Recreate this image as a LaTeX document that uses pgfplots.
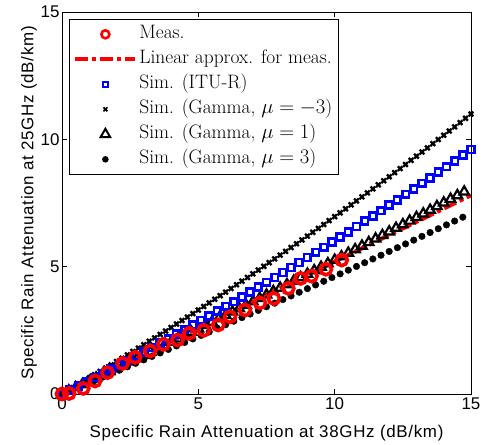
\documentclass[border=0pt]{standalone}
\usepackage{fontspec}
\usepackage{pgfplots}
\pgfplotsset{compat=1.18}
\newfontfamily\tickfont{Liberation Sans}
\newfontfamily\labfont[LetterSpace=4]{Liberation Sans}

\begin{document}
\begin{tikzpicture}
\begin{axis}[
    name=ax,
    scale only axis,
    width=409bp, height=382bp,
    xmin=0, xmax=15, ymin=0, ymax=15,
    xtick={0,5,10,15}, ytick={0,5,10,15},
    tick align=inside,
    major tick length=5bp,
    axis line style={line width=0.9bp},
    every tick/.style={black, line width=0.9bp},
    ticklabel style={font=\fontsize{17}{19}\selectfont\tickfont},
    /pgf/number format/assume math mode=true,
    xticklabel style={yshift=0bp},
    yticklabel style={xshift=1bp},
    xlabel={Specific Rain Attenuation at 38GHz (dB/km)},
    ylabel={Specific Rain Attenuation at 25GHz (dB/km)},
    label style={font=\fontsize{17}{19}\selectfont\labfont},
    xlabel style={yshift=-9bp},
    ylabel style={yshift=-3bp},
    legend style={
        at={(0.017,0.982)}, anchor=north west,
        draw=black, line width=0.9bp,
        font=\fontsize{19.5}{22}\selectfont,
        cells={anchor=west},
        nodes={text height=14bp, text depth=5bp, inner ysep=3bp},
        /tikz/every odd column/.append style={inner xsep=1bp},
        row sep=0bp,
        inner xsep=4bp, inner ysep=2.5bp,
    },
    legend image code/.code={
        \draw[mark repeat=2,mark phase=2,#1] plot coordinates {(0bp,0bp) (30bp,0bp) (60bp,0bp)};
    },
]
\addlegendimage{only marks, mark=o, mark size=4bp, red, line width=2.6bp}
\addlegendentry{Meas.}
\addlegendimage{red, line width=4bp, dash pattern=on 13bp off 4bp on 4bp off 4bp}
\addlegendentry{Linear approx. for meas.}
\addlegendimage{only marks, mark=square, mark size=2.6bp, blue, line width=1.8bp}
\addlegendentry{Sim. (ITU-R)}
\addlegendimage{only marks, mark=x, mark size=2.8bp, black, line width=1.7bp}
\addlegendentry{Sim. (Gamma, $\mu=-3$)}
\addlegendimage{only marks, mark=triangle, mark size=5.5bp, black, line width=2bp, mark options={fill=white}}
\addlegendentry{Sim. (Gamma, $\mu=1$)}
\addlegendimage{only marks, mark=*, mark size=2.8bp, black}
\addlegendentry{Sim. (Gamma, $\mu=3$)}

% Sim. (Gamma, mu = 3)
\addplot[forget plot, only marks, mark=*, mark size=3.3bp, black] table {
x y
0 0
0.3 0.132
0.6 0.265
0.9 0.398
1.2 0.531
1.5 0.665
1.8 0.799
2.1 0.934
2.4 1.069
2.7 1.204
3.0 1.340
3.3 1.476
3.6 1.613
3.9 1.750
4.2 1.887
4.5 2.025
4.8 2.163
5.1 2.301
5.4 2.440
5.7 2.580
6.0 2.719
6.3 2.859
6.6 3.000
6.9 3.141
7.2 3.282
7.5 3.424
7.8 3.566
8.1 3.708
8.4 3.851
8.7 3.995
9.0 4.138
9.3 4.282
9.6 4.427
9.9 4.572
10.2 4.717
10.5 4.863
10.8 5.009
11.1 5.155
11.4 5.302
11.7 5.449
12.0 5.597
12.3 5.745
12.6 5.893
12.9 6.042
13.2 6.191
13.5 6.341
13.8 6.491
14.1 6.641
14.4 6.792
14.7 6.943
};

% Sim. (Gamma, mu = 1)
\addplot[forget plot, only marks, mark=triangle, mark size=5.5bp, black, line width=2.2bp, mark options={fill=white}] table {
x y
0 0
0.25 0.125
0.5 0.251
0.75 0.376
1.0 0.503
1.25 0.629
1.5 0.756
1.75 0.883
2.0 1.010
2.25 1.138
2.5 1.266
2.75 1.395
3.0 1.523
3.25 1.652
3.5 1.782
3.75 1.912
4.0 2.042
4.25 2.172
4.5 2.303
4.75 2.434
5.0 2.565
5.25 2.697
5.5 2.829
5.75 2.961
6.0 3.094
6.25 3.227
6.5 3.360
6.75 3.494
7.0 3.627
7.25 3.762
7.5 3.896
7.75 4.031
8.0 4.166
8.25 4.302
8.5 4.438
8.75 4.574
9.0 4.711
9.25 4.847
9.5 4.985
9.75 5.122
10.0 5.260
10.25 5.398
10.5 5.537
10.75 5.675
11.0 5.815
11.25 5.954
11.5 6.094
11.75 6.234
12.0 6.374
12.25 6.515
12.5 6.656
12.75 6.798
13.0 6.939
13.25 7.081
13.5 7.224
13.75 7.367
14.0 7.510
14.25 7.653
14.5 7.797
14.75 7.941
};

% Sim. (Gamma, mu = -3)
\addplot[forget plot, only marks, mark=x, mark size=3.3bp, black, line width=2.3bp] table {
x y
0 0
0.2 0.125
0.4 0.250
0.6 0.376
0.8 0.503
1.0 0.630
1.2 0.758
1.4 0.887
1.6 1.016
1.8 1.145
2.0 1.275
2.2 1.406
2.4 1.537
2.6 1.669
2.8 1.802
3.0 1.935
3.2 2.069
3.4 2.203
3.6 2.338
3.8 2.473
4.0 2.609
4.2 2.746
4.4 2.883
4.6 3.021
4.8 3.159
5.0 3.298
5.2 3.438
5.4 3.578
5.6 3.719
5.8 3.860
6.0 4.002
6.2 4.144
6.4 4.287
6.6 4.431
6.8 4.575
7.0 4.720
7.2 4.866
7.4 5.012
7.6 5.158
7.8 5.305
8.0 5.453
8.2 5.602
8.4 5.750
8.6 5.900
8.8 6.050
9.0 6.201
9.2 6.352
9.4 6.504
9.6 6.656
9.8 6.809
10.0 6.963
10.2 7.117
10.4 7.272
10.6 7.427
10.8 7.583
11.0 7.740
11.2 7.897
11.4 8.055
11.6 8.213
11.8 8.372
12.0 8.532
12.2 8.692
12.4 8.852
12.6 9.014
12.8 9.175
13.0 9.338
13.2 9.501
13.4 9.664
13.6 9.829
13.8 9.993
14.0 10.159
14.2 10.325
14.4 10.491
14.6 10.658
14.8 10.826
15.0 10.994
};

% Sim. (ITU-R)
\addplot[forget plot, only marks, mark=square, mark size=3.4bp, blue, line width=2.7bp, mark options={fill=white}] table {
x y
0 0
0.3 0.159
0.6 0.320
0.9 0.482
1.2 0.645
1.5 0.810
1.8 0.976
2.1 1.144
2.4 1.312
2.7 1.482
3.0 1.654
3.3 1.826
3.6 2.000
3.9 2.176
4.2 2.352
4.5 2.530
4.8 2.710
5.1 2.890
5.4 3.072
5.7 3.256
6.0 3.440
6.3 3.626
6.6 3.814
6.9 4.002
7.2 4.192
7.5 4.384
7.8 4.576
8.1 4.770
8.4 4.966
8.7 5.162
9.0 5.360
9.3 5.560
9.6 5.760
9.9 5.962
10.2 6.166
10.5 6.370
10.8 6.576
11.1 6.784
11.4 6.992
11.7 7.202
12.0 7.414
12.3 7.626
12.6 7.840
12.9 8.056
13.2 8.272
13.5 8.490
13.8 8.710
14.1 8.930
14.4 9.152
14.7 9.375
15.0 9.600
};

% Linear approx. for meas.
\addplot[forget plot, red, line width=4bp, dash pattern=on 13bp off 4bp on 4bp off 4bp] coordinates {
(0,0) (15,7.8)
};

% Meas.
\addplot[forget plot, only marks, mark=o, mark size=5.6bp, red, line width=3.6bp, mark options={fill=white}] table {
x y
0 0
0.26 0.02
0.78 0.22
1.21 0.51
1.67 0.84
2.22 1.20
2.68 1.44
3.23 1.69
3.72 1.95
4.24 2.12
4.67 2.38
5.20 2.50
5.73 2.71
6.16 3.03
6.71 3.30
7.26 3.58
7.77 3.75
8.30 4.15
8.75 4.54
9.15 4.63
9.68 4.90
10.26 5.26
};
\end{axis}
\path ([xshift=-62bp,yshift=-51bp]ax.south west) rectangle ([xshift=16bp,yshift=12bp]ax.north east);
\end{tikzpicture}
\end{document}
